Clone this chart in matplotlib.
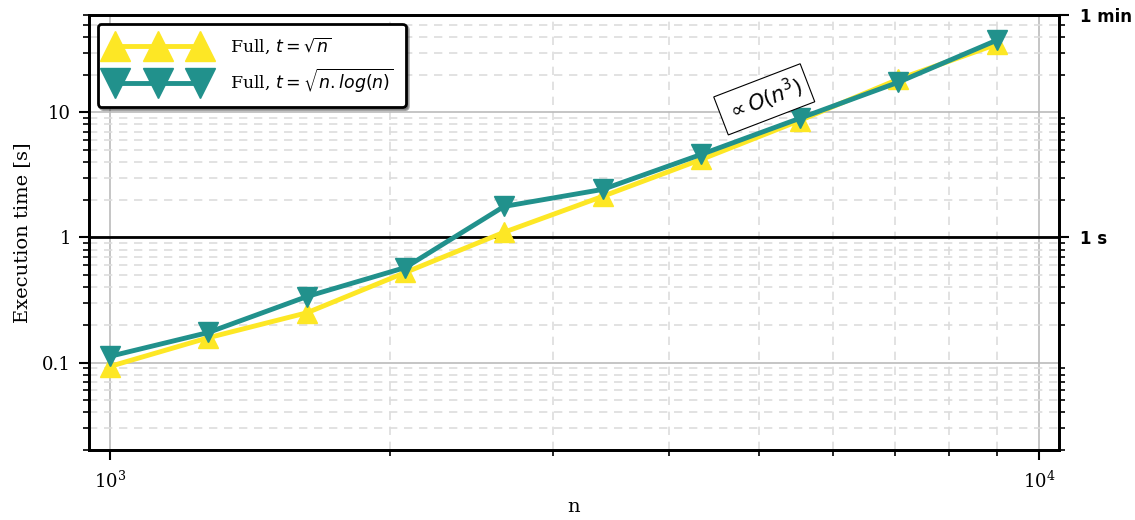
import numpy as np
import matplotlib
import matplotlib.pyplot as plt
from matplotlib.ticker import LogLocator, FixedLocator, FixedFormatter, NullFormatter

matplotlib.use('Agg')

# matrix sizes and measured times
n_values = [1000, 1277, 1630, 2080, 2656, 3391, 4329, 5526, 7054, 9000]
time_sqrt_n = [0.093, 0.158, 0.25, 0.525, 1.1, 2.13, 4.2, 8.6, 18.4, 35.0]
time_sqrt_nlogn = [0.112, 0.174, 0.337, 0.575, 1.77, 2.42, 4.61, 8.96, 17.4, 37.7]

labels = [r"Full, $t=\sqrt{n}$", r"Full, $t=\sqrt{n.log(n)}$"]
colors = ["#fde725", "#21918c"]

plt.rcParams['font.family'] = 'DejaVu Serif'
plt.rcParams['mathtext.fontset'] = 'dejavusans'

fig = plt.figure(figsize=(11.35, 5.2), dpi=100)
ax = fig.add_axes([0.0784, 0.1346, 0.8546, 0.8366])

ax.plot(n_values, time_sqrt_n, color=colors[0], marker='^', markersize=15, lw=3.5,
        label=labels[0], zorder=3)
ax.plot(n_values, time_sqrt_nlogn, color=colors[1], marker='v', markersize=15, lw=3.5,
        label=labels[1], zorder=4)

ax.set_xscale('log')
ax.set_yscale('log')
ax.set_xlim(950, 10500)
ax.set_ylim(0.02, 60)

ax.yaxis.set_major_locator(FixedLocator([0.1, 1, 10]))
ax.yaxis.set_major_formatter(FixedFormatter(['0.1', '1', '10']))
ax.yaxis.set_minor_locator(LogLocator(base=10, subs=np.arange(2, 10)))
ax.yaxis.set_minor_formatter(NullFormatter())
ax.xaxis.set_minor_formatter(NullFormatter())

ax.grid(which='major', color='#bbbbbb', lw=1.2, ls='-')
ax.grid(which='minor', color='#dddddd', lw=1.2, ls='--', dashes=(5, 4))
ax.axhline(1, color='black', lw=2, zorder=2)

for s in ax.spines.values():
    s.set_linewidth(2)
ax.tick_params(which='major', width=1.5, length=7, labelsize=13)
ax.tick_params(which='minor', width=1.2, length=4)
ax.tick_params(axis='x', pad=8)
ax.tick_params(axis='y', pad=6)

ax.set_xlabel('n', fontsize=14, labelpad=4)
ax.set_ylabel('Execution time [s]', fontsize=14, labelpad=8)

# right axis with human readable marks
ax2 = ax.twinx()
ax2.set_yscale('log')
ax2.set_ylim(ax.get_ylim())
ax2.yaxis.set_major_locator(FixedLocator([1, 60]))
ax2.yaxis.set_major_formatter(FixedFormatter(['1 s', '1 min']))
ax2.yaxis.set_minor_locator(LogLocator(base=10, subs=np.arange(2, 10)))
ax2.yaxis.set_minor_formatter(NullFormatter())
ax2.tick_params(which='major', width=1.5, length=7, labelsize=12, pad=8)
ax2.tick_params(which='minor', width=1.2, length=4)
for lbl in ax2.get_yticklabels():
    lbl.set_fontfamily('DejaVu Sans')
    lbl.set_fontweight('bold')
for s in ax2.spines.values():
    s.set_linewidth(2)

ax.text(5060, 12.7, r"$\propto O(n^3)$", fontsize=15, rotation=21,
        ha='center', va='center',
        bbox=dict(facecolor='white', edgecolor='black', lw=0.8, boxstyle='square,pad=0.3'),
        zorder=5)

leg = ax.legend(loc='upper left', numpoints=3, shadow=True, fontsize=12.5,
                framealpha=1, edgecolor='black', handlelength=5.5, markerscale=1.4,
                borderpad=0.7, labelspacing=0.6, handletextpad=1.4)
leg.get_frame().set_linewidth(2)

plt.savefig('out.png', dpi=100)
